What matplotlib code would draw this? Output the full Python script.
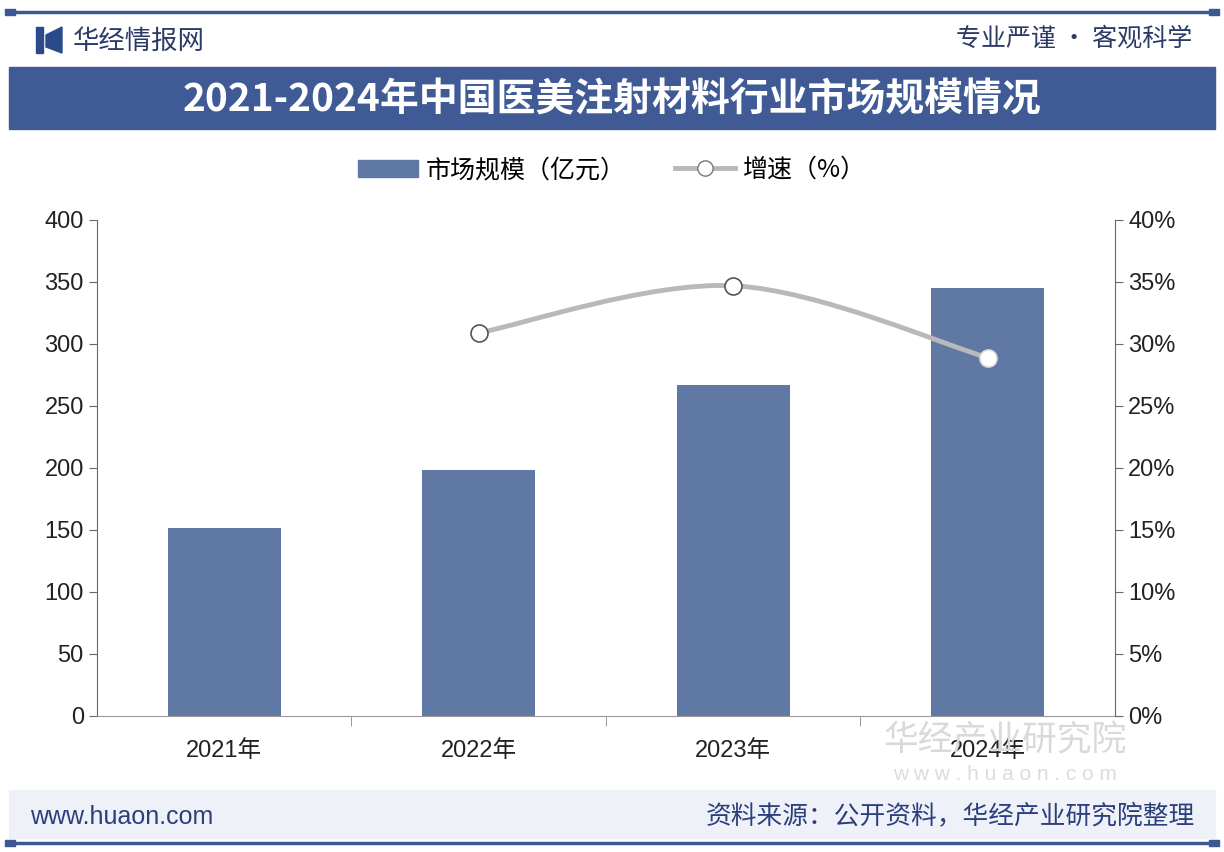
import matplotlib
matplotlib.use("Agg")
import matplotlib.pyplot as plt
from matplotlib.path import Path
from matplotlib.patches import PathPatch, Rectangle, Polygon
from matplotlib.lines import Line2D
import numpy as np

plt.rcParams['font.family'] = ['Liberation Sans', 'Noto Sans CJK SC', 'DejaVu Sans']

# data
years = ["2021年", "2022年", "2023年", "2024年"]
market_size = [151.6, 198.5, 267.3, 344.9]   # 亿元
growth = [None, 30.9, 34.7, 28.9]             # %

title = "2021-2024年中国医美注射材料行业市场规模情况"
bar_color = "#6079a4"
navy = "#3d5793"
cjk = ['Noto Sans CJK SC', 'DejaVu Sans']

fig = plt.figure(figsize=(12.24, 8.52), dpi=100)
fig.patch.set_facecolor("white")

# header / footer decorations (figure coords)
def fy(py):
    return 1 - py / 852.0

def fx(px):
    return px / 1224.0

for py in (12, 843):
    fig.add_artist(Line2D([fx(10), fx(1214)], [fy(py), fy(py)], color=navy, lw=2.5))
    for px in (10, 1214):
        fig.add_artist(Rectangle((fx(px) - 0.004, fy(py) - 0.004), 0.008, 0.008,
                                 color=navy, transform=fig.transFigure))

fig.add_artist(Rectangle((fx(9), fy(129)), fx(1206), 62 / 852.0, color="#3f5a95",
                         transform=fig.transFigure, zorder=0))
fig.text(0.5, fy(100), title, ha="center", va="center", color="white",
         fontsize=28, fontweight="bold", family=cjk)

# little logo
fig.add_artist(Rectangle((fx(36), fy(53)), fx(7), 26 / 852.0, color="#2a4a8a",
                         transform=fig.transFigure))
fig.add_artist(Polygon([(fx(46), fy(35)), (fx(46), fy(47)), (fx(62), fy(53)),
                        (fx(62), fy(27))], closed=True, color="#2a4a8a",
                       transform=fig.transFigure))
fig.text(fx(73), fy(41), "华经情报网", ha="left", va="center", color="#2b3a66",
         fontsize=19, family=cjk)
fig.text(fx(1192), fy(39), "专业严谨 • 客观科学", ha="right", va="center",
         color="#2b3a66", fontsize=18, family=cjk)

fig.add_artist(Rectangle((fx(9), fy(838)), fx(1206), 48 / 852.0, color="#eef2f8",
                         transform=fig.transFigure, zorder=0))
fig.text(fx(30), fy(817), "www.huaon.com", ha="left", va="center", color="#2c3f7c",
         fontsize=18)
fig.text(fx(1195), fy(817), "资料来源：公开资料，华经产业研究院整理", ha="right",
         va="center", color="#2c3f7c", fontsize=18.5, family=cjk)

# watermarks
fig.text(fx(1005), fy(741), "华经产业研究院", ha="center", va="center",
         color="#d9d9d9", fontsize=25, family=cjk, zorder=0)
fig.text(fx(1005), fy(775), "w w w . h u a o n . c o m", ha="center", va="center",
         color="#dcdcdc", fontsize=15, zorder=0)

ax = fig.add_axes([fx(97), fy(716), fx(1115) - fx(97), (716 - 220) / 852.0])
ax.set_facecolor("none")
x = np.arange(len(years))
ax.bar(x, market_size, width=0.445, color=bar_color, zorder=2)
ax.set_xlim(-0.5, len(years) - 0.5)
ax.set_ylim(0, 400)
ax.set_yticks(range(0, 401, 50))
ax.set_xticks(x)
ax.set_xticklabels(years, family=['Liberation Sans', 'Noto Sans CJK SC'])
ax.set_xticks(np.arange(0.5, len(years) - 1, 1.0), minor=True)
ax.tick_params(axis="x", which="major", length=0, pad=17, labelsize=17, colors="#222222")
ax.tick_params(axis="x", which="minor", length=7, direction="out", color="#888888")
ax.tick_params(axis="y", length=6, color="#6b6478", labelsize=17, labelcolor="#222222")
for s in ("top", "right"):
    ax.spines[s].set_visible(False)
ax.spines["left"].set_color("#6b6478")
ax.spines["bottom"].set_color("#999999")

ax2 = ax.twinx()
ax2.set_ylim(0, 40)
ax2.set_yticks(range(0, 41, 5))
ax2.set_yticklabels([f"{v}%" for v in range(0, 41, 5)])
ax2.tick_params(axis="y", length=6, color="#6b6478", labelsize=17, labelcolor="#222222")
for s in ("top", "left", "bottom"):
    ax2.spines[s].set_visible(False)
ax2.spines["right"].set_color("#6b6478")

# smooth line through the growth points (Catmull-Rom as bezier)
gx = [i for i, g in enumerate(growth) if g is not None]
gy = [g for g in growth if g is not None]
pts = list(zip(gx, gy))
verts = [pts[0]]
codes = [Path.MOVETO]
for i in range(len(pts) - 1):
    p0 = pts[i - 1] if i > 0 else pts[i]
    p1, p2 = pts[i], pts[i + 1]
    p3 = pts[i + 2] if i + 2 < len(pts) else pts[i + 1]
    c1 = (p1[0] + (p2[0] - p0[0]) / 6, p1[1] + (p2[1] - p0[1]) / 6)
    c2 = (p2[0] - (p3[0] - p1[0]) / 6, p2[1] - (p3[1] - p1[1]) / 6)
    verts += [c1, c2, p2]
    codes += [Path.CURVE4] * 3
ax2.add_patch(PathPatch(Path(verts, codes), fill=False, edgecolor="#b9b9b9", lw=3.5,
                        zorder=3))
ax2.scatter(gx[:-1], gy[:-1], s=150, facecolor="white", edgecolor="#555555",
            linewidth=1.2, zorder=4)
ax2.scatter(gx[-1:], gy[-1:], s=150, facecolor="white", edgecolor="#dddddd",
            linewidth=1.2, zorder=4)

# legend
handles = [Rectangle((0, 0), 1, 1, color=bar_color),
           Line2D([0], [0], color="#b9b9b9", lw=3.5, marker="o", markersize=11,
                  markerfacecolor="white", markeredgecolor="#777777")]
fig.legend(handles, ["市场规模（亿元）", "增速（%）"], loc="center",
           bbox_to_anchor=(0.5, fy(170)), ncol=2, frameon=False,
           prop={"family": cjk, "size": 18}, handlelength=2.4, columnspacing=2.0,
           handletextpad=0.3)

fig.savefig("out.png", dpi=100)
